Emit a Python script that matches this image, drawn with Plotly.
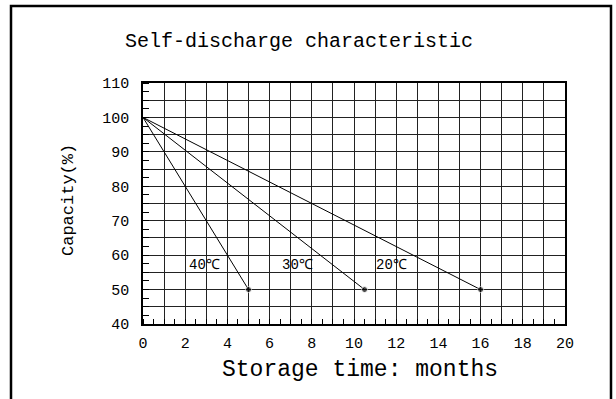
import plotly.graph_objects as go

# Data
series_names = ["20℃", "30℃", "40℃"]
months_20 = [0, 16.0]
months_30 = [0, 10.5]
months_40 = [0, 5.0]
capacity = [100, 50]

label_x = [11.8, 7.3, 2.9]
label_y = [57, 57, 57]

x_tick_vals = list(range(0, 21))
x_tick_text = [str(v) if v % 2 == 0 else "" for v in x_tick_vals]
y_tick_vals = list(range(40, 111, 5))
y_tick_text = [str(v) if v % 10 == 0 else "" for v in y_tick_vals]

title_text = "Self-discharge characteristic"
x_title = "Storage time: months"
y_title = "Capacity(%)"

FONT = "Liberation Mono, DejaVu Sans Mono, monospace"

fig = go.Figure()
for name, xs in zip(series_names, [months_20, months_30, months_40]):
    fig.add_trace(go.Scatter(
        x=xs, y=capacity, mode="lines+markers", name=name,
        line=dict(color="black", width=1),
        marker=dict(size=[0, 6], color="black"),
        showlegend=False, hoverinfo="skip",
    ))

for name, lx, ly in zip(series_names, label_x, label_y):
    fig.add_annotation(x=lx, y=ly, text=name, showarrow=False,
                       font=dict(family=FONT, size=14, color="black"),
                       bgcolor="rgba(0,0,0,0)")

L, R, T, B = 143, 51, 83, 75
W, H = 616, 399
pw = W - L - R
ph = H - T - B

def px_to_paper_x(px):
    return (px - L) / pw

def px_to_paper_y(py):
    return (H - B - py) / ph

# Outer frame (open at the bottom)
fig.add_shape(type="path", xref="paper", yref="paper",
              path=f"M {px_to_paper_x(11)} {px_to_paper_y(420)} L {px_to_paper_x(11)} {px_to_paper_y(6)} "
                   f"L {px_to_paper_x(611)} {px_to_paper_y(6)} L {px_to_paper_x(611)} {px_to_paper_y(420)}",
              line=dict(color="black", width=2.5))

fig.add_annotation(xref="paper", yref="paper", x=px_to_paper_x(299), y=px_to_paper_y(42),
                   text=title_text, showarrow=False, xanchor="center", yanchor="middle",
                   font=dict(family=FONT, size=20, color="black"))
fig.add_annotation(xref="paper", yref="paper", x=px_to_paper_x(360), y=px_to_paper_y(370),
                   text=x_title, showarrow=False, xanchor="center", yanchor="middle",
                   font=dict(family=FONT, size=23, color="black"))
fig.add_annotation(xref="paper", yref="paper", x=px_to_paper_x(68), y=px_to_paper_y(200),
                   text=y_title, showarrow=False, xanchor="center", yanchor="middle",
                   textangle=-90,
                   font=dict(family=FONT, size=17, color="black"))

fig.update_xaxes(
    range=[0, 20], tickmode="array", tickvals=x_tick_vals, ticktext=x_tick_text,
    showgrid=True, gridcolor="#222", gridwidth=1,
    showline=True, linecolor="black", linewidth=1.5, mirror=True,
    ticks="", zeroline=False, ticklabelstandoff=4,
    tickfont=dict(family=FONT, size=15, color="black"),
    minor=dict(dtick=0.5, tick0=0, ticks="inside", ticklen=5, tickcolor="black", showgrid=False),
)
fig.update_yaxes(
    range=[40, 110], tickmode="array", tickvals=y_tick_vals, ticktext=y_tick_text,
    showgrid=True, gridcolor="#222", gridwidth=1,
    showline=True, linecolor="black", linewidth=1.5, mirror=True,
    ticks="", zeroline=False, ticklabelstandoff=9,
    tickfont=dict(family=FONT, size=15, color="black"),
    minor=dict(dtick=2.5, tick0=40, ticks="inside", ticklen=6, tickcolor="black", showgrid=False),
)

fig.update_layout(
    width=W, height=H,
    margin=dict(l=L, r=R, t=T, b=B, pad=0),
    paper_bgcolor="white", plot_bgcolor="white",
    showlegend=False,
)

fig.write_html(
    "out.html",
    config={"displayModeBar": False},
    post_script="document.body.style.margin='0';document.body.style.overflow='hidden';",
)
